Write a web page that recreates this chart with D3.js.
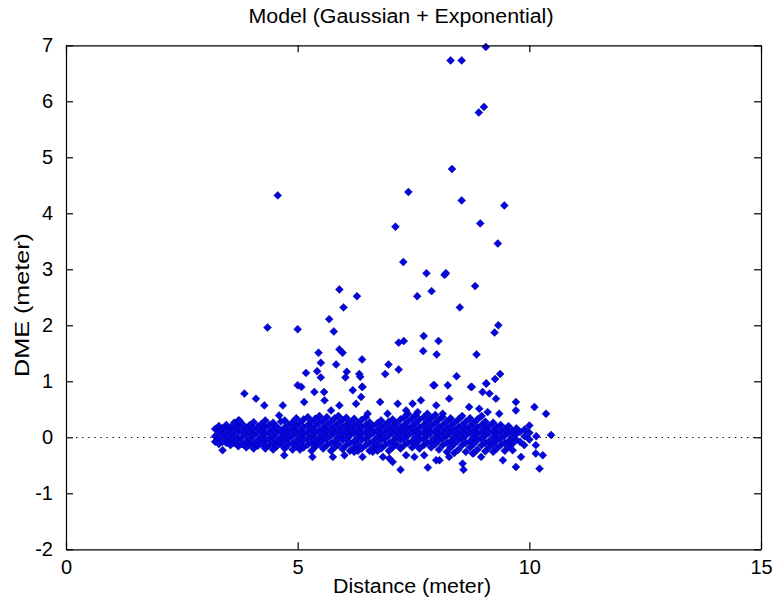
<!DOCTYPE html>
<html>
<head>
<meta charset="utf-8">
<script src="https://cdn.jsdelivr.net/npm/d3@7"></script>
<style>
  html, body { margin: 0; padding: 0; background: #ffffff; }
  svg { display: block; }
  text { font-family: "Liberation Sans", Arial, Helvetica, sans-serif; fill: #000; }
</style>
</head>
<body>
<svg id="chart" width="772" height="604"></svg>
<script>
// ---------------- data ----------------
const titleText = "Model (Gaussian + Exponential)";
const xLabelText = "Distance (meter)";
const yLabelText = "DME (meter)";
const xTicks = [0, 5, 10, 15];
const yTicks = [-2, -1, 0, 1, 2, 3, 4, 5, 6, 7];

// dense band near zero: distance of each column and DME values in it
const bandColumnsX = [3.22,3.30,3.38,3.46,3.55,3.63,3.72,3.80,3.89,3.97,4.05,4.14,4.22,4.30,4.39,4.47,4.55,4.64,4.72,4.80,4.89,4.97,
  5.05,5.13,5.22,5.30,5.38,5.47,5.55,5.63,5.72,5.80,5.88,5.97,6.05,6.13,6.22,6.30,6.38,6.47,6.55,6.63,6.72,6.80,6.88,6.97,
  7.05,7.13,7.22,7.30,7.38,7.47,7.55,7.63,7.72,7.80,7.88,7.97,8.05,8.13,8.22,8.30,8.38,8.47,8.55,8.63,8.72,8.80,8.88,8.97,
  9.05,9.13,9.22,9.30,9.38,9.47,9.55,9.63,9.72,9.80,9.90,10.00,10.15];
const bandColumnsY = [
  [0.02,0.15,-0.08],[0.10,-0.03,0.20,-0.12],[0.05,-0.08,0.16],[0.12,0.00,-0.10,0.22],[0.07,-0.05,0.18,-0.14],
  [0.02,0.14,-0.10,0.26],[0.09,-0.04,0.20,-0.16,0.30],[0.00,0.12,-0.12,0.24],[0.06,-0.08,0.17,-0.18],[0.10,-0.02,0.22,-0.12],
  [0.03,0.15,-0.10,0.27,-0.20],[0.08,-0.05,0.19,-0.15],[0.00,0.12,-0.12,0.24],[0.06,-0.06,0.18,-0.20,0.30],[0.10,-0.02,0.22,-0.14],
  [0.02,0.14,-0.10,0.26,-0.22],[0.08,-0.06,0.19,-0.16],[0.00,0.12,-0.12,0.28],[0.05,-0.05,0.17,-0.20,0.30],[0.10,-0.02,0.22,-0.13],
  [0.03,0.15,-0.10,0.27,-0.22],[0.08,-0.06,0.20,-0.16,0.34],
  [0.00,0.12,-0.12,0.26,-0.22],[0.06,-0.05,0.18,0.32,-0.18],[0.10,-0.02,0.22,-0.13,0.36],[0.02,0.15,-0.10,0.28,-0.24],
  [0.08,-0.06,0.20,-0.17,0.33],[0.00,0.12,-0.12,0.26,0.38],[0.05,-0.05,0.17,-0.20,0.30],[0.10,-0.02,0.22,-0.14,0.36],
  [0.03,0.15,-0.10,0.28,-0.24],[0.08,-0.07,0.20,-0.18,0.34],[0.00,0.12,-0.13,0.25,0.38],[0.06,-0.05,0.18,-0.21,0.31],
  [0.10,-0.02,0.22,-0.14,0.35],[0.03,0.15,-0.10,0.27,-0.24],[0.08,-0.07,0.20,-0.18,0.33],[0.00,0.12,-0.13,0.25,-0.24],
  [0.06,-0.05,0.18,0.31,-0.20],[0.10,-0.02,0.22,-0.14,0.36],[0.03,0.15,-0.10,0.27,-0.24],[0.08,-0.07,0.20,-0.18],
  [0.00,0.12,-0.13,0.25,-0.24],[0.06,-0.05,0.18,0.30,-0.20],[0.10,-0.02,0.22,-0.14],[0.03,0.15,-0.10,0.28,-0.24],
  [0.08,-0.07,0.20,-0.18,0.32],[0.00,0.12,-0.13,0.25],[0.06,-0.05,0.18,0.32,-0.20],[0.10,-0.02,0.22,-0.14,0.36],
  [0.03,0.15,-0.10,0.28,0.42],[0.08,-0.07,0.20,-0.18,0.34],[0.00,0.12,-0.12,0.26,0.40],[0.06,-0.05,0.18,0.32,-0.20],
  [0.10,-0.02,0.22,-0.14,0.36],[0.03,0.15,-0.10,0.28,0.42],[0.08,-0.07,0.20,-0.18,0.34],[0.00,0.12,-0.12,0.26,0.40],
  [0.06,-0.05,0.18,0.32,-0.22],[0.10,-0.02,0.22,-0.14,0.36],[0.03,0.15,-0.10,0.28,-0.26],[0.08,-0.07,0.20,-0.18,0.34],
  [0.00,0.12,-0.12,0.26,-0.28],[0.06,-0.05,0.18,0.32,-0.22],[0.10,-0.02,0.22,-0.14,0.38],[0.03,0.15,-0.10,0.28,-0.26],
  [0.08,-0.07,0.20,-0.18,0.34],[0.00,0.12,-0.12,0.26,-0.28],[0.06,-0.05,0.18,0.32,-0.22],[0.10,-0.02,0.22,-0.14,0.38],
  [0.03,0.15,-0.10,0.28,-0.25],[0.08,-0.07,0.20,-0.18],[0.00,0.12,-0.12,0.26,-0.26],[0.06,-0.05,0.18,-0.20],
  [0.10,-0.02,0.22,-0.14],[0.03,0.15,-0.10,-0.24],[0.08,-0.07,0.20,-0.17],[0.00,0.12,-0.12],[0.06,-0.05,0.16],
  [0.10,-0.08],[0.02,0.14],[-0.04,0.08],[0.02]
];

// scattered points just above / below the band
const spreadDistance = [3.85,4.10,4.28,4.68,5.00,5.08,5.14,5.36,5.57,5.58,4.60,3.74,6.19,6.40,6.37,6.26,6.78,7.16,7.48,7.66,
  7.95,7.99,7.34,7.59,6.94,6.51,5.72,5.90,8.24,8.74,9.07,8.99,9.14,8.27,9.28,9.71,9.71,10.11,10.36,8.70,8.92,9.10,8.13,9.35,
  10.00,10.47,6.39,7.93,8.76,
  3.38,4.71,5.32,4.32,5.76,6.01,6.62,6.84,6.98,7.05,7.22,7.34,7.52,7.73,7.99,7.81,6.40,6.22,
  10.14,9.89,9.64,10.14,9.82,10.29,9.71,10.22,8.56,8.58,9.43,8.96,8.78,8.27,8.06];
const spreadDme = [0.78,0.69,0.57,0.57,0.93,0.90,0.63,0.81,0.81,0.66,0.39,0.30,0.84,0.90,0.72,0.60,0.63,0.60,0.60,0.66,
  0.93,0.57,0.48,0.45,0.42,0.42,0.48,0.57,0.93,0.90,0.96,0.81,0.78,0.69,0.69,0.63,0.48,0.54,0.42,0.54,0.51,0.45,0.42,0.42,
  0.21,0.04,0.90,0.93,0.90,
  -0.23,-0.32,-0.35,-0.17,-0.35,-0.32,-0.26,-0.35,-0.38,-0.44,-0.58,-0.32,-0.35,-0.32,-0.41,-0.54,-0.35,-0.26,
  -0.14,-0.14,-0.23,-0.29,-0.35,-0.32,-0.53,-0.56,-0.47,-0.58,-0.41,-0.35,-0.29,-0.35,-0.41];

// large errors
const highDistance = [8.30,8.54,9.06,8.91,9.02,4.57,8.33,7.39,8.54,9.46,8.94,7.11,9.32,7.28,7.78,8.17,8.20,8.83,5.90,6.28,
  7.58,7.89,5.99,8.50,5.68,4.35,5.00,5.78,9.33,9.25,7.18,7.29,7.72,8.04,7.71,8.00,8.86,5.45,5.90,5.97,5.50,6.39,5.83,6.96,
  5.18,5.42,5.50,6.06,6.03,6.33,6.35,6.89,7.18,8.43,9.37,9.26,9.07];
const highDme = [6.73,6.73,6.97,5.80,5.90,4.32,4.79,4.38,4.23,4.14,3.82,3.76,3.46,3.13,2.93,2.90,2.93,2.70,2.64,2.52,
  2.52,2.61,2.32,2.32,2.11,1.96,1.93,1.89,2.00,1.87,1.69,1.72,1.81,1.72,1.54,1.48,1.48,1.51,1.57,1.51,1.33,1.39,1.30,1.30,
  1.15,1.18,1.07,1.17,1.07,1.13,1.08,1.13,1.21,1.09,1.13,1.04,0.96];

// ---------------- build ----------------
const points = [];
bandColumnsX.forEach((d, i) => bandColumnsY[i].forEach(v => points.push({x: d, y: v})));
spreadDistance.forEach((d, i) => points.push({x: d, y: spreadDme[i]}));
highDistance.forEach((d, i) => points.push({x: d, y: highDme[i]}));

const L = 66, R = 761, T = 45.3, B = 549.3;
const x = d3.scaleLinear().domain([0, 15]).range([L, R]);
const y = d3.scaleLinear().domain([-2, 7]).range([B, T]);

const svg = d3.select("#chart");
svg.append("rect").attr("width", 772).attr("height", 604).attr("fill", "#fff");

// zero reference line
svg.append("line")
  .attr("x1", x(0) + 10).attr("x2", x(15))
  .attr("y1", Math.round(y(0)) + 0.5).attr("y2", Math.round(y(0)) + 0.5)
  .attr("stroke", "#000").attr("stroke-width", 1.2)
  .attr("stroke-dasharray", "1.3,4.8");

// points
const sym = d3.symbol().type(d3.symbolDiamond2).size(40);
svg.append("g").selectAll("path").data(points).join("path")
  .attr("transform", d => `translate(${x(d.x)},${y(d.y)})`)
  .attr("d", sym)
  .attr("fill", "#0505e0")
  .attr("stroke", "#000090")
  .attr("stroke-width", 0.5);

// axes (MATLAB box, inward ticks)
const tickLen = 7;
const axisStyle = g => {
  g.select(".domain").attr("stroke", "#000").attr("stroke-width", 1.2);
  g.selectAll(".tick line").attr("stroke", "#000").attr("stroke-width", 1.2);
  g.selectAll(".tick text").attr("font-size", 20).attr("font-family", '"Liberation Sans", Arial, sans-serif');
};
svg.append("g").attr("transform", `translate(0,${B})`)
  .call(d3.axisBottom(x).tickValues(xTicks).tickFormat(d3.format("d")).tickSizeInner(-tickLen).tickSizeOuter(0).tickPadding(tickLen + 4))
  .call(axisStyle);
svg.append("g").attr("transform", `translate(0,${T})`)
  .call(d3.axisTop(x).tickValues(xTicks).tickFormat("").tickSizeInner(-tickLen).tickSizeOuter(0))
  .call(axisStyle);
svg.append("g").attr("transform", `translate(${L},0)`)
  .call(d3.axisLeft(y).tickValues(yTicks).tickFormat(d => String(d)).tickSizeInner(-tickLen).tickSizeOuter(0).tickPadding(tickLen + 6))
  .call(axisStyle);
svg.append("g").attr("transform", `translate(${R},0)`)
  .call(d3.axisRight(y).tickValues(yTicks).tickFormat("").tickSizeInner(-tickLen).tickSizeOuter(0))
  .call(axisStyle);

// titles
svg.append("text").attr("x", 401).attr("y", 23).attr("text-anchor", "middle")
  .attr("font-size", 20).attr("textLength", 305).attr("lengthAdjust", "spacingAndGlyphs").text(titleText);
svg.append("text").attr("x", 412).attr("y", 593).attr("text-anchor", "middle")
  .attr("font-size", 20).attr("textLength", 158).attr("lengthAdjust", "spacingAndGlyphs").text(xLabelText);
svg.append("text").attr("transform", "translate(29,305) rotate(-90)").attr("text-anchor", "middle")
  .attr("font-size", 20).attr("textLength", 144).attr("lengthAdjust", "spacingAndGlyphs").text(yLabelText);
</script>
</body>
</html>
